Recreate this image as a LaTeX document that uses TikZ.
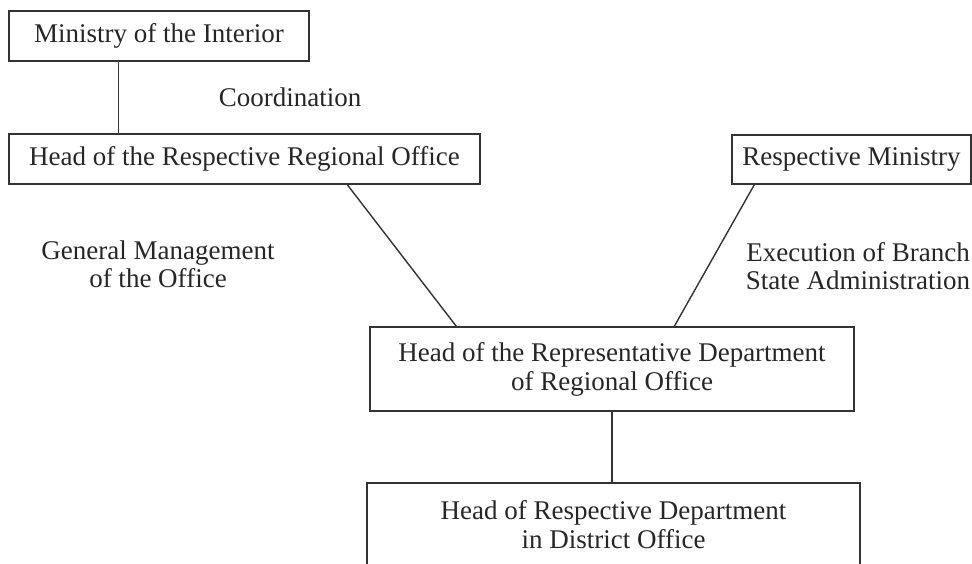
\documentclass[tikz,border=0pt]{standalone}
\usepackage{fontspec}
\setmainfont{Liberation Serif}
\begin{document}
\begin{tikzpicture}[x=0.5pt,y=-0.5pt,
		box/.style={draw=black!80,line width=0.7pt,inner sep=0pt,align=center,text=black!85,font=\fontsize{13.5}{14.5}\selectfont},
		lbl/.style={align=center,text=black!85,font=\fontsize{13.5}{14}\selectfont},
		conn/.style={draw=black!80,line width=0.7pt}]
		\useasboundingbox (0,0) rectangle (972,563);
		\clip (0,0) rectangle (972,563);
		\node[box,minimum width=150pt,minimum height=25pt](interior) at (159,36){Ministry of the Interior};
		\node[box,minimum width=235.5pt,minimum height=25pt](regional) at (244.5,159){Head of the Respective Regional Office};
		\node[box,minimum width=119.5pt,minimum height=24.5pt](ministry) at (851.5,159.5){Respective Ministry};
		\node[box,minimum width=242pt,minimum height=42pt](repdept) at (612,369){Head of the Representative Department\\of Regional Office};
		\node[box,minimum width=246.5pt,minimum height=42pt](district) at (613.5,525){Head of Respective Department\\in District Office};
		\node[lbl](coord) at (290,97){Coordination};
		\node[lbl](genmgmt) at (158,264){General Management\\of the Office};
		\node[lbl](exec) at (858,266){Execution of Branch\\State Administration};
		\draw[conn] ([xshift=55pt]interior.south west) -- ([xshift=55pt]regional.north west);
		\draw[conn] ([xshift=169.5pt]regional.south west) -- ([xshift=43.5pt]repdept.north west);
		\draw[conn] ([xshift=11.5pt]ministry.south west) -- ([xshift=152.5pt]repdept.north west);
		\draw[conn] (repdept.south) -- (repdept.south |- district.north);
	\end{tikzpicture}
\end{document}
